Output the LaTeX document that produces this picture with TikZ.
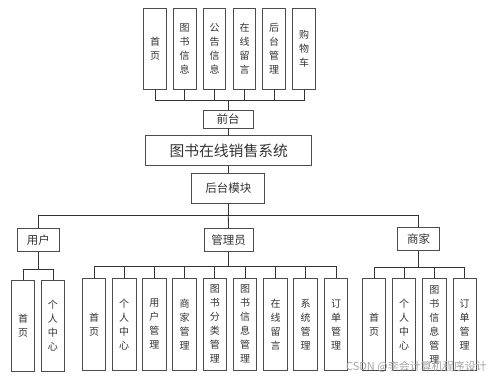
\documentclass[tikz,border=0pt]{standalone}
\usepackage{fontspec}
\setmainfont{Noto Sans CJK SC}
\begin{document}
\begin{tikzpicture}[x=1pt,y=-1pt,
  box/.style={draw=black!70, line width=0.8pt, fill=white, inner sep=0pt, text=black!80, font=\fontsize{10}{14}\selectfont, align=center},
  vtop/.style={box, minimum width=22.5pt, minimum height=81pt},
  vbot/.style={box, minimum width=23.5pt, minimum height=91.5pt},
  hbox/.style={box, minimum height=23pt, font=\fontsize{11.5}{14}\selectfont},
  conn/.style={draw=black!80, line width=0.8pt}
]
\useasboundingbox (0,0) rectangle (499,380);
% top boxes
\node[vtop] (t1) at (155,48.5) {首\\页};
\node[vtop] (t2) at (184.7,48.5) {图\\书\\信\\息};
\node[vtop] (t3) at (214.5,48.5) {公\\告\\信\\息};
\node[vtop] (t4) at (244.5,48.5) {在\\线\\留\\言};
\node[vtop] (t5) at (274,48.5) {后\\台\\管\\理};
\node[vtop] (t6) at (304,48.5) {购\\物\\车};
\coordinate (topbus) at (228,100.7);
\node[hbox, minimum width=50pt, minimum height=18pt] (qt) at (228,119) {前台};
\node[box, minimum width=166pt, minimum height=30pt, font=\fontsize{14.8}{16}\selectfont] (sys) at (228.7,150.7) {图书在线销售系统};
\node[hbox, minimum width=73pt, minimum height=30pt] (hm) at (228.3,188) {后台模块};
\foreach \i in {1,...,6} {\draw[conn] (t\i.south) |- (topbus);}
\draw[conn] (topbus) -- (qt.north);
\draw[conn] (qt.south) -- (qt.south |- sys.north);
\draw[conn] (sys.south -| hm.north) -- (hm.north);
% role level
\coordinate (midbus) at (228.3,215);
\node[hbox, minimum width=42pt] (user) at (38.3,240) {用户};
\node[hbox, minimum width=49pt] (admin) at (228.5,240) {管理员};
\node[hbox, minimum width=41.6pt] (shop) at (418.5,239) {商家};
\draw[conn] (hm.south) -- (midbus);
\draw[conn] (midbus) -| (user.north);
\draw[conn] (midbus) -| (shop.north);
\draw[conn] (midbus) -- (admin.north);
% user subs
\coordinate (ubus) at (38.3,269);
\node[vbot] (u1) at (23,325.8) {首\\页};
\node[vbot] (u2) at (53,325.8) {个\\人\\中\\心};
\draw[conn] (user.south) -- (ubus);
\foreach \i in {1,2} {\draw[conn] (ubus) -| (u\i.north);}
% admin subs
\coordinate (abus) at (228.5,266.7);
\node[vbot] (a1) at (94,324.2) {首\\页};
\node[vbot] (a2) at (124.2,324.2) {个\\人\\中\\心};
\node[vbot] (a3) at (154.4,324.2) {用\\户\\管\\理};
\node[vbot] (a4) at (184.6,324.2) {商\\家\\管\\理};
\node[vbot] (a5) at (214.8,324.2) {图\\书\\分\\类\\管\\理};
\node[vbot] (a6) at (245,324.2) {图\\书\\信\\息\\管\\理};
\node[vbot] (a7) at (275.6,324.2) {在\\线\\留\\言};
\node[vbot] (a8) at (305.6,324.2) {系\\统\\管\\理};
\node[vbot] (a9) at (336,324.2) {订\\单\\管\\理};
\draw[conn] (admin.south) -- (abus);
\foreach \i in {1,...,9} {\draw[conn] (abus) -| (a\i.north);}
% shop subs
\coordinate (sbus) at (418.5,267.7);
\node[vbot] (s1) at (374,324.5) {首\\页};
\node[vbot] (s2) at (404,324.5) {个\\人\\中\\心};
\node[vbot] (s3) at (434.3,324.5) {图\\书\\信\\息\\管\\理};
\node[vbot] (s4) at (464.7,324.5) {订\\单\\管\\理};
\draw[conn] (shop.south) -- (sbus);
\foreach \i in {1,...,4} {\draw[conn] (sbus) -| (s\i.north);}
% watermark
\node[text=black!35, font=\fontsize{11}{12}\selectfont, anchor=east, inner sep=0pt] (wm) at (487,367) {CSDN @李会计算机程序设计};
\end{tikzpicture}
\end{document}
